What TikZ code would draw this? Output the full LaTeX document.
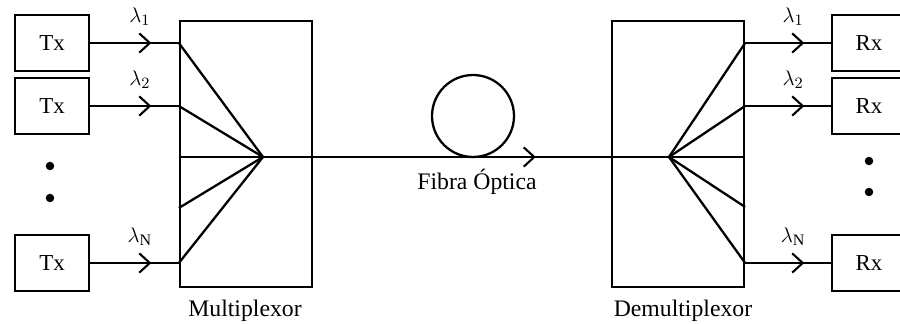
\documentclass[tikz,border=0pt]{standalone}
\usepackage{fontspec}
\setmainfont{Liberation Serif}
\usetikzlibrary{arrows.meta,decorations.markings,positioning,calc}

\begin{document}
\begin{tikzpicture}[
  x=0.02cm, y=-0.02cm,
  font=\fontsize{13}{15}\selectfont,
  unit/.style={draw,line width=1.3pt,minimum width=1.48cm,minimum height=1.12cm,
               inner sep=0pt},
  mux/.style={draw,line width=1.3pt,minimum width=2.64cm,minimum height=5.32cm,
              inner sep=0pt},
  fiber/.style={line width=1.3pt},
  chan/.style={fiber,postaction={decorate},decoration={markings,
      mark=at position #1 with {\arrow{Straight Barb[length=6pt,width=11pt,line width=1.2pt]}}}},
  lbl/.style={font=\fontsize{13.5}{15}\selectfont},
  dot/.style={circle,fill,inner sep=0pt,minimum size=0.17cm},
]
\useasboundingbox (0,0) rectangle (900,324);

%% Transmitters
\node[unit] (tx1) at (52,43) {Tx};
\node[unit] (tx2) at (52,106) {Tx};
\node[unit] (txN) at (52,263) {Tx};
\node[dot] (dl1) at (50,166) {};
\node[dot] (dl2) at (50,198) {};

%% Multiplexer
\node[mux] (mux) at (246,154) {};
\node[lbl] (muxl) at (245,311) {Multiplexor};
\coordinate (mj) at (263,157);
\coordinate (m1) at (mux.west |- tx1);
\coordinate (m2) at (mux.west |- tx2);
\coordinate (m3) at (mux.west |- mj);
\coordinate (m4) at ($(mux.west |- mj)+(0,51)$);
\coordinate (m5) at (mux.west |- txN);

%% Demultiplexer
\node[mux] (demux) at (678,154) {};
\node[lbl] (demuxl) at (683,311) {Demultiplexor};
\coordinate (dj) at (669,157);

%% Receivers (cut by the right margin)
\node[unit] (rx1) at (869,43) {Rx};
\node[unit] (rx2) at (869,106) {Rx};
\node[unit] (rxN) at (869,263) {Rx};
\node[dot] (dr1) at (869,161) {};
\node[dot] (dr2) at (869,192) {};
\coordinate (d1) at (demux.east |- rx1);
\coordinate (d2) at (demux.east |- rx2);
\coordinate (d3) at (demux.east |- dj);
\coordinate (d4) at ($(demux.east |- dj)+(0,50)$);
\coordinate (d5) at (demux.east |- rxN);

%% Input channels
\draw[chan=0.69] (tx1.east) -- node[above=6pt,pos=0.56] {$\lambda_1$} (m1);
\draw[chan=0.69] (tx2.east) -- node[above=6pt,pos=0.56] {$\lambda_2$} (m2);
\draw[chan=0.69] (txN.east) -- node[above=6pt,pos=0.56] {$\lambda_{\mathrm{N}}$} (m5);

%% Fan-in / fan-out
\foreach \p in {m1,m2,m3,m4,m5}
  \draw[fiber] (\p) -- (mj);
\foreach \p in {d1,d2,d3,d4,d5}
  \draw[fiber] (dj) -- (\p);

%% Fibre with loop
\node[draw,circle,line width=1.3pt,minimum size=1.64cm,inner sep=0pt] (loop) at (473,116) {};
\draw[chan=0.672] (mj) -- (dj);
\node[lbl] (fibl) at (477,182) {Fibra Óptica};

%% Output channels
\draw[chan=0.69] (d1) -- node[above=6pt,pos=0.56] {$\lambda_1$} (rx1.west);
\draw[chan=0.69] (d2) -- node[above=6pt,pos=0.56] {$\lambda_2$} (rx2.west);
\draw[chan=0.69] (d5) -- node[above=6pt,pos=0.56] {$\lambda_{\mathrm{N}}$} (rxN.west);
\end{tikzpicture}
\end{document}
